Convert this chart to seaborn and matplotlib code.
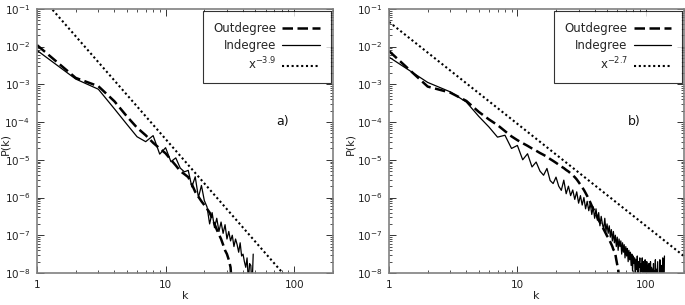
import numpy as np
import matplotlib
matplotlib.use('Agg')
import matplotlib.pyplot as plt
import seaborn as sns
from matplotlib.ticker import LogLocator, NullFormatter

# Datos (exponentes log10 de P(k), k = 1, 2, 3, ...)
# Panel a)
a_out_exp = [-1.96, -2.83, -3.05, -3.45, -3.85, -4.15, -4.35, -4.55, -4.70, -4.83,
             -5.00, -5.15, -5.30, -5.38, -5.46, -5.65, -5.85, -5.98, -6.10, -6.20,
             -6.30, -6.40, -6.55, -6.70, -6.85, -6.98, -7.10, -7.25, -7.40, -7.50,
             -7.65, -7.85, -8.50]
a_in_exp = [-2.10, -2.86, -3.13, -3.65, -4.06, -4.39, -4.52, -4.36, -4.85, -4.68,
            -5.05, -4.95, -5.22, -5.32, -5.28, -5.72, -5.45, -6.00, -5.68, -6.08,
            -6.25, -6.70, -6.40, -6.80, -6.55, -6.90, -6.65, -6.95, -6.72, -7.10,
            -6.90, -7.15, -7.00, -7.30, -7.10, -7.25, -7.45, -7.20, -7.55, -7.50,
            -7.70, -7.85, -7.60, -8.20, -7.75, -7.80, -8.40, -7.50]
a_fit_k = [1, 200]
a_fit_p = [2.8e-1, 3.0e-10]

# Panel b)
b_out_exp = [-2.12, -3.06, -3.22, -3.44, -3.73, -3.93, -4.08, -4.24, -4.38, -4.48,
             -4.56, -4.63, -4.70, -4.76, -4.82, -4.87, -4.92, -4.98, -5.03, -5.08,
             -5.13, -5.18, -5.22, -5.27, -5.31, -5.36, -5.41, -5.46, -5.52, -5.59,
             -5.66, -5.73, -5.80, -5.88, -5.96, -6.05, -6.13, -6.22, -6.30, -6.38,
             -6.45, -6.52, -6.60, -6.66, -6.72, -6.78, -6.84, -6.90, -6.96, -7.02,
             -7.06, -7.12, -7.18, -7.24, -7.30, -7.38, -7.42, -7.50, -7.65, -7.78,
             -7.90, -8.10, -8.30]
b_in_exp = [-2.28, -2.95, -3.20, -3.47, -3.85, -4.13, -4.40, -4.35, -4.70, -4.62,
            -5.00, -4.84, -5.19, -5.06, -5.30, -5.41, -5.23, -5.55, -5.63, -5.46,
            -5.70, -5.81, -5.54, -5.90, -5.70, -5.95, -5.80, -6.05, -5.85, -6.15,
            -5.95, -6.20, -6.00, -6.30, -6.10, -6.35, -6.15, -6.45, -6.25, -6.55,
            -6.30, -6.60, -6.40, -6.75, -6.50, -6.70, -6.85, -6.55, -6.90, -6.70,
            -6.95, -6.75, -7.05, -6.85, -7.15, -6.90, -7.20, -7.00, -7.30, -7.05,
            -7.40, -7.10, -7.30, -7.15, -7.50, -7.20, -7.45, -7.25, -7.60, -7.30,
            -7.55, -7.35, -7.70, -7.40, -7.65, -7.45, -7.80, -7.50, -7.95, -7.55,
            -7.75, -7.60, -8.20, -7.65, -7.90, -7.55, -8.30, -7.70, -7.85, -7.60,
            -8.20, -7.75, -7.95, -7.60, -8.40, -7.70, -7.90, -8.30, -7.65, -7.85,
            -8.40, -7.70, -8.10, -7.80, -8.40, -7.75, -8.00, -8.40, -7.70, -8.20,
            -7.85, -8.40, -7.90, -8.30, -7.75, -8.40, -7.95, -8.20, -7.65, -8.40,
            -7.90, -8.40, -8.00, -7.70, -8.40, -8.40, -8.10, -8.40, -7.65, -8.40,
            -8.40, -8.40, -7.80, -8.40, -8.40, -7.60, -8.40, -8.40, -8.40, -7.55]
b_fit_k = [1, 200]
b_fit_p = [4.5e-2, 2.75e-8]

y_ticks = [1e-8, 1e-7, 1e-6, 1e-5, 1e-4, 1e-3, 1e-2, 1e-1]
y_ticklabels = ['10$^{-8}$', '10$^{-7}$', '10$^{-6}$', '10$^{-5}$',
                '10$^{-4}$', '10$^{-3}$', '10$^{-2}$', '10$^{-1}$']
x_ticks = [1, 10, 100]
x_ticklabels = ['1', '10', '100']

sns.set_style('ticks')
plt.rcParams['font.family'] = ['DejaVu Sans']
plt.rcParams['mathtext.default'] = 'regular'

fig = plt.figure(figsize=(6.85, 3.05), dpi=100)
ax_a = fig.add_axes([0.054, 0.105, 0.432, 0.866])
ax_b = fig.add_axes([0.568, 0.105, 0.431, 0.866])

paneles = [
    (ax_a, a_out_exp, a_in_exp, a_fit_k, a_fit_p, 'x$^{-3.9}$', 'a)', -0.09),
    (ax_b, b_out_exp, b_in_exp, b_fit_k, b_fit_p, 'x$^{-2.7}$', 'b)', -0.115),
]

for ax, out_exp, in_exp, fit_k, fit_p, fit_label, letra, ylab_x in paneles:
    k_out = np.arange(1, len(out_exp) + 1)
    k_in = np.arange(1, len(in_exp) + 1)
    p_out = 10.0 ** np.array(out_exp)
    p_in = 10.0 ** np.array(in_exp)

    sns.lineplot(x=k_out, y=p_out, ax=ax, color='black', linewidth=1.8,
                 linestyle=(0, (4.2, 1.8)), label='Outdegree')
    sns.lineplot(x=k_in, y=p_in, ax=ax, color='black', linewidth=0.9,
                 label='Indegree')
    sns.lineplot(x=fit_k, y=fit_p, ax=ax, color='black', linewidth=1.5,
                 linestyle=(0, (1.0, 1.3)), label=fit_label)

    ax.set_xscale('log')
    ax.set_yscale('log')
    ax.set_xlim(1, 200)
    ax.set_ylim(1e-8, 1e-1)

    ax.set_xticks(x_ticks)
    ax.set_xticklabels(x_ticklabels)
    ax.set_yticks(y_ticks)
    ax.set_yticklabels(y_ticklabels)
    ax.xaxis.set_minor_locator(LogLocator(base=10, subs=np.arange(2, 10)))
    ax.yaxis.set_minor_locator(LogLocator(base=10, subs=np.arange(2, 10)))
    ax.xaxis.set_minor_formatter(NullFormatter())
    ax.yaxis.set_minor_formatter(NullFormatter())

    ax.tick_params(which='both', direction='in', top=True, right=True,
                   color='#333333', labelsize=7.5, labelcolor='#222222')
    ax.tick_params(which='major', length=5, width=0.7, pad=5)
    ax.tick_params(which='minor', length=2.5, width=0.6)
    for s in ax.spines.values():
        s.set_color('#808080')
        s.set_linewidth(1.2)

    ax.set_xlabel('k', fontsize=8, color='#222222', labelpad=0.5)
    ax.set_ylabel('P(k)', fontsize=8, color='#222222')
    ax.yaxis.set_label_coords(ylab_x, 0.49)

    ax.text(0.831, 0.572, letra, transform=ax.transAxes, fontsize=9,
            ha='center', va='center', color='#111111')

    leg = ax.legend(loc='upper right', markerfirst=False, fontsize=8.5,
                    frameon=True, fancybox=False, edgecolor='black',
                    handlelength=3.2, handletextpad=0.5, borderpad=0.9,
                    labelspacing=0.35, borderaxespad=0.2)
    leg.get_frame().set_linewidth(0.8)

fig.savefig('out.png', dpi=100)
